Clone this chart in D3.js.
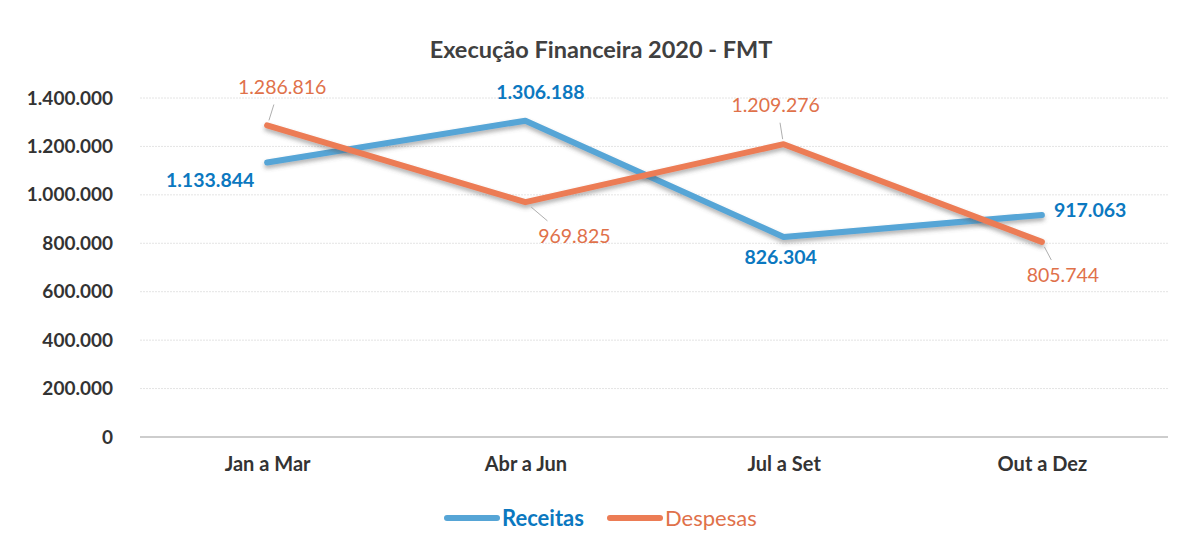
<!DOCTYPE html>
<html>
<head>
<meta charset="utf-8">
<script src="https://cdn.jsdelivr.net/npm/d3@7"></script>
<style>
  body { margin: 0; background: #fff; }
  text { font-family: Lato, "Open Sans", sans-serif; }
</style>
</head>
<body>
<div id="chart"></div>
<script>
// data
var categories = ["Jan a Mar", "Abr a Jun", "Jul a Set", "Out a Dez"];
var receitas = [1133844, 1306188, 826304, 917063];
var despesas = [1286816, 969825, 1209276, 805744];
var yTicks = [0, 200000, 400000, 600000, 800000, 1000000, 1200000, 1400000];

// label offsets (dx, dy from point to label centre)
var recOffsets = [[-57, 18], [15, -29], [-3, 20], [65, -5]];
var desOffsets = [[15, -38], [49, 34], [-8, -39], [21, 33]];

var width = 1182, height = 548;
var margin = {top: 98, right: 11, bottom: 111, left: 138};

var fmt = function (v) {
    return String(v).replace(/\B(?=(\d{3})+(?!\d))/g, ".");
};

var svg = d3.select("#chart")
    .append("svg")
    .attr("width", width)
    .attr("height", height);

var defs = svg.append("defs");
var f = defs.append("filter").attr("id", "shadow")
    .attr("x", "-5%").attr("y", "-20%").attr("width", "110%").attr("height", "150%");
f.append("feDropShadow")
    .attr("dx", 0).attr("dy", 3).attr("stdDeviation", 2)
    .attr("flood-color", "#555").attr("flood-opacity", 0.45);

var x = d3.scalePoint()
    .domain(categories)
    .range([margin.left, width - margin.right])
    .padding(0.5);

var y = d3.scaleLinear()
    .domain([0, 1400000])
    .range([height - margin.bottom, margin.top]);

// title
svg.append("text")
    .attr("x", 601)
    .attr("y", 58)
    .attr("text-anchor", "middle")
    .style("font-size", "23.5px")
    .style("font-weight", "bold")
    .style("fill", "#404040")
    .text("Execução Financeira 2020 - FMT");

// gridlines
svg.append("g")
    .selectAll("line")
    .data(yTicks)
    .enter()
    .append("line")
    .attr("x1", 140)
    .attr("x2", 1168)
    .attr("y1", d => y(d))
    .attr("y2", d => y(d))
    .style("stroke", d => d === 0 ? "#bdbdbd" : "#e4e4e4")
    .style("stroke-width", d => d === 0 ? 1.5 : 1)
    .style("stroke-dasharray", d => d === 0 ? null : "2,1");

// y axis labels
var yAxis = d3.axisLeft(y)
    .tickValues(yTicks)
    .tickSize(0)
    .tickPadding(0)
    .tickFormat(fmt);

svg.append("g")
    .attr("transform", "translate(113,0)")
    .call(yAxis)
    .call(g => g.select(".domain").remove())
    .selectAll("text")
    .style("font-size", "19px")
    .style("font-weight", "bold")
    .style("fill", "#333");

// x axis labels
var xAxis = d3.axisBottom(x).tickSize(0).tickPadding(0);
svg.append("g")
    .attr("transform", "translate(0,457)")
    .call(xAxis)
    .call(g => g.select(".domain").remove())
    .selectAll("text")
    .style("font-size", "20px")
    .style("font-weight", "bold")
    .style("fill", "#333");

var line = d3.line()
    .x((d, i) => x(categories[i]))
    .y(d => y(d));

var series = [
    {name: "Receitas", values: receitas, color: "#56A5D6", text: "#0B78C0", weight: "bold", offsets: recOffsets},
    {name: "Despesas", values: despesas, color: "#EC7C55", text: "#E0714A", weight: "normal", offsets: desOffsets}
];

series.forEach(function (s) {
    svg.append("path")
        .datum(s.values)
        .attr("d", line)
        .attr("fill", "none")
        .attr("stroke", s.color)
        .attr("stroke-width", 6)
        .attr("stroke-linecap", "round")
        .attr("stroke-linejoin", "round")
        .attr("filter", "url(#shadow)");
});

// data labels with leader lines
series.forEach(function (s) {
    s.values.forEach(function (v, i) {
        var px = x(categories[i]), py = y(v);
        var o = s.offsets[i];
        var lx = px + o[0], ly = py + o[1];
        var anchor = "middle";
        if (s.name === "Receitas" && i === 3) anchor = "start";
        if (Math.abs(o[1]) > 30) {
            svg.append("line")
                .attr("x1", px + o[0] * 0.12)
                .attr("y1", py + Math.sign(o[1]) * 5)
                .attr("x2", px + o[0] * 0.45)
                .attr("y2", py + o[1] * 0.55)
                .style("stroke", "#999")
                .style("stroke-width", 0.8);
        }
        svg.append("text")
            .attr("x", anchor === "start" ? px + 12 : lx)
            .attr("y", ly)
            .attr("dy", "0.35em")
            .attr("text-anchor", anchor)
            .style("font-size", "19.5px")
            .style("font-weight", s.weight)
            .style("fill", s.text)
            .text(fmt(v));
    });
});

// legend
var legend = svg.append("g").attr("transform", "translate(447,518)");
series.forEach(function (s, i) {
    var g = legend.append("g").attr("transform", "translate(" + (i * 163) + ",0)");
    g.append("line")
        .attr("x1", 0).attr("x2", 50)
        .attr("y1", 0).attr("y2", 0)
        .attr("stroke", s.color)
        .attr("stroke-width", 6)
        .attr("stroke-linecap", "round");
    g.append("text")
        .attr("x", 55)
        .attr("y", 0)
        .attr("dy", "0.35em")
        .style("font-size", "22px")
        .style("font-weight", i === 0 ? "bold" : "normal")
        .style("fill", s.text)
        .text(s.name);
});
</script>
</body>
</html>
